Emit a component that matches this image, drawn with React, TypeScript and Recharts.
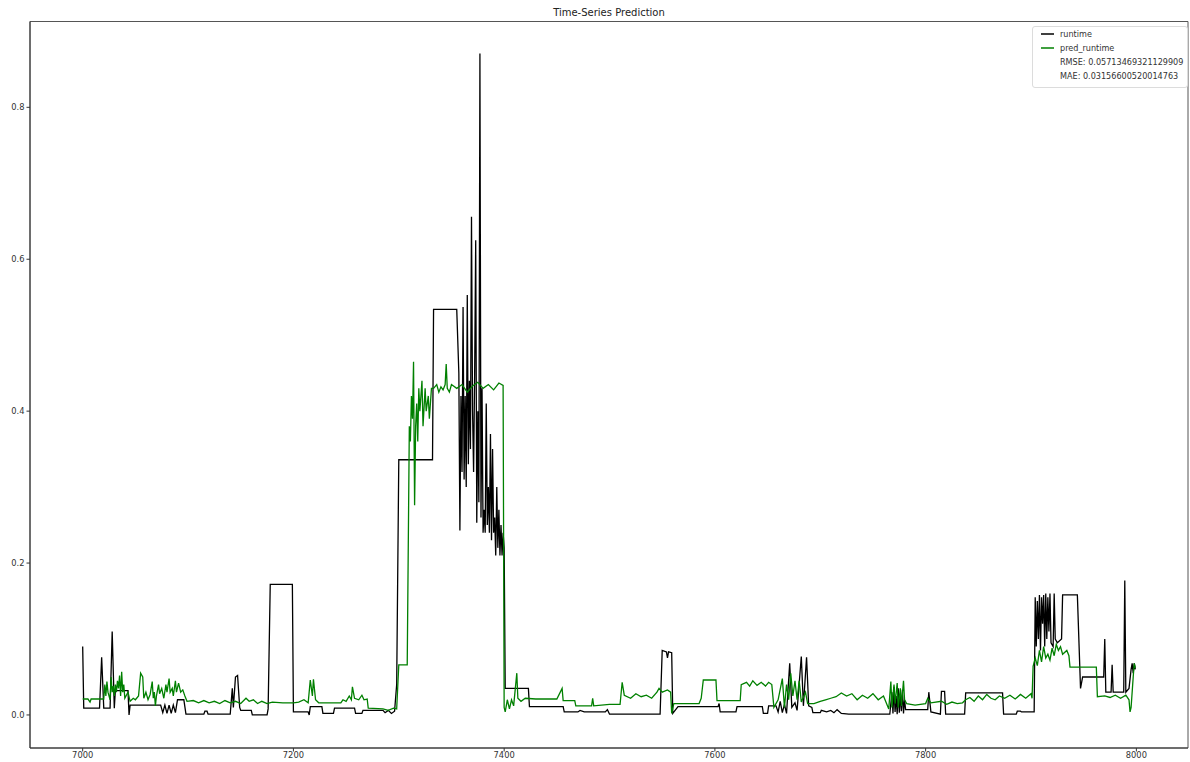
import React from "react";
import { LineChart, Line, XAxis, YAxis, ReferenceArea, Legend } from "recharts";

// runtime (actual) series: [index, value]
const runtimePairs: [number, number][] = [
  [7000, 0.09], [7001, 0.009], [7016, 0.009], [7018, 0.076], [7020, 0.009], [7026, 0.009], [7028, 0.11], [7030, 0.009],
  [7031, 0.032], [7043, 0.032], [7044, 0.0], [7045, 0.013], [7074, 0.013], [7076, 0.003], [7078, 0.013], [7080, 0.002],
  [7082, 0.013], [7084, 0.002], [7086, 0.013], [7088, 0.003], [7090, 0.02], [7096, 0.02], [7098, 0.001], [7115, 0.001],
  [7116, 0.005], [7118, 0.005], [7119, 0.001], [7140, 0.001], [7142, 0.035], [7143, 0.01], [7145, 0.05], [7147, 0.052],
  [7149, 0.01], [7150, 0.006], [7160, 0.006], [7161, 0.0], [7175, 0.0], [7176, 0.008], [7178, 0.172], [7199, 0.172],
  [7200, 0.004], [7214, 0.004], [7215, 0.0], [7216, 0.011], [7227, 0.011], [7228, 0.002], [7238, 0.002], [7239, 0.009],
  [7258, 0.009], [7259, 0.002], [7265, 0.002], [7266, 0.006], [7285, 0.006], [7287, 0.003], [7290, 0.006], [7293, 0.002],
  [7296, 0.005], [7298, 0.04], [7300, 0.336], [7332, 0.336], [7333, 0.534], [7355, 0.534], [7357, 0.45], [7358, 0.243],
  [7359, 0.42], [7360, 0.32], [7361, 0.537], [7362, 0.31], [7363, 0.42], [7364, 0.3], [7365, 0.553], [7366, 0.33],
  [7367, 0.44], [7368, 0.35], [7369, 0.656], [7370, 0.4], [7371, 0.32], [7372, 0.45], [7373, 0.625], [7374, 0.253],
  [7375, 0.4], [7376, 0.28], [7377, 0.871], [7378, 0.26], [7379, 0.43], [7380, 0.24], [7381, 0.27], [7382, 0.24],
  [7383, 0.41], [7384, 0.25], [7385, 0.3], [7386, 0.24], [7387, 0.37], [7388, 0.23], [7389, 0.35], [7390, 0.24],
  [7391, 0.26], [7392, 0.21], [7393, 0.3], [7394, 0.22], [7395, 0.27], [7396, 0.21], [7397, 0.25], [7398, 0.21],
  [7399, 0.24], [7400, 0.22], [7401, 0.035], [7423, 0.035], [7424, 0.011], [7456, 0.011], [7457, 0.004], [7470, 0.004],
  [7472, 0.006], [7476, 0.004], [7496, 0.004], [7498, 0.007], [7500, 0.001], [7548, 0.001], [7550, 0.085], [7554, 0.083],
  [7555, 0.075], [7556, 0.083], [7559, 0.082], [7560, 0.002], [7565, 0.011], [7603, 0.011], [7604, 0.015], [7605, 0.004],
  [7620, 0.004], [7621, 0.011], [7645, 0.011], [7646, 0.002], [7650, 0.002], [7651, 0.012], [7658, 0.012], [7660, 0.004],
  [7662, 0.018], [7664, 0.003], [7666, 0.014], [7668, 0.002], [7671, 0.068], [7673, 0.01], [7676, 0.016], [7678, 0.006],
  [7682, 0.077], [7684, 0.012], [7687, 0.076], [7689, 0.012], [7692, 0.01], [7693, 0.003], [7700, 0.003], [7701, 0.006],
  [7706, 0.004], [7710, 0.006], [7713, 0.003], [7716, 0.007], [7720, 0.002], [7727, 0.001], [7766, 0.001], [7768, 0.03],
  [7769, 0.002], [7770, 0.037], [7771, 0.004], [7772, 0.025], [7773, 0.001], [7774, 0.035], [7775, 0.003], [7776, 0.028],
  [7777, 0.005], [7778, 0.033], [7779, 0.002], [7780, 0.02], [7781, 0.007], [7802, 0.007], [7803, 0.03], [7805, 0.004],
  [7814, 0.001], [7815, 0.031], [7818, 0.031], [7819, 0.001], [7837, 0.001], [7838, 0.029], [7873, 0.029], [7874, 0.001],
  [7886, 0.001], [7887, 0.005], [7890, 0.005], [7891, 0.004], [7903, 0.004], [7904, 0.155], [7905, 0.09], [7906, 0.15],
  [7907, 0.1], [7908, 0.158], [7909, 0.085], [7910, 0.155], [7911, 0.12], [7912, 0.158], [7913, 0.09], [7914, 0.16],
  [7915, 0.1], [7916, 0.155], [7917, 0.11], [7918, 0.16], [7919, 0.095], [7921, 0.09], [7922, 0.16], [7923, 0.1],
  [7925, 0.095], [7929, 0.1], [7930, 0.158], [7944, 0.158], [7947, 0.035], [7949, 0.05], [7969, 0.05], [7970, 0.1],
  [7971, 0.03], [7976, 0.03], [7977, 0.066], [7978, 0.03], [7988, 0.03], [7989, 0.177], [7990, 0.03], [7993, 0.035],
  [7995, 0.06], [7996, 0.068], [7997, 0.055], [7998, 0.068], [7999, 0.06],
];

// pred_runtime (predicted) series: [index, value]
const predPairs: [number, number][] = [
  [7000, 0.021], [7005, 0.021], [7007, 0.017], [7008, 0.021], [7020, 0.021], [7021, 0.04], [7022, 0.025], [7023, 0.044],
  [7024, 0.03], [7026, 0.02], [7027, 0.05], [7028, 0.03], [7029, 0.038], [7030, 0.025], [7031, 0.04], [7032, 0.03],
  [7033, 0.045], [7034, 0.035], [7035, 0.052], [7036, 0.025], [7037, 0.057], [7038, 0.03], [7039, 0.04], [7040, 0.022],
  [7043, 0.03], [7045, 0.018], [7048, 0.022], [7050, 0.02], [7053, 0.025], [7055, 0.055], [7057, 0.05], [7058, 0.022],
  [7060, 0.03], [7062, 0.02], [7064, 0.027], [7066, 0.044], [7067, 0.022], [7068, 0.03], [7069, 0.012], [7070, 0.025],
  [7072, 0.04], [7073, 0.028], [7075, 0.035], [7077, 0.022], [7079, 0.04], [7080, 0.03], [7082, 0.048], [7083, 0.03],
  [7085, 0.035], [7086, 0.025], [7088, 0.045], [7089, 0.03], [7091, 0.042], [7093, 0.03], [7095, 0.033], [7097, 0.025],
  [7099, 0.018], [7105, 0.019], [7110, 0.016], [7115, 0.019], [7120, 0.016], [7125, 0.018], [7130, 0.015], [7135, 0.019],
  [7140, 0.016], [7145, 0.018], [7150, 0.015], [7155, 0.022], [7158, 0.018], [7162, 0.02], [7166, 0.015], [7170, 0.018],
  [7175, 0.015], [7180, 0.017], [7190, 0.016], [7200, 0.016], [7205, 0.017], [7210, 0.02], [7214, 0.016], [7216, 0.046],
  [7218, 0.025], [7219, 0.047], [7221, 0.02], [7224, 0.016], [7240, 0.016], [7245, 0.016], [7247, 0.02], [7250, 0.018],
  [7253, 0.025], [7255, 0.02], [7256, 0.037], [7258, 0.022], [7262, 0.02], [7265, 0.026], [7267, 0.02], [7270, 0.021],
  [7271, 0.009], [7285, 0.008], [7290, 0.006], [7295, 0.009], [7298, 0.008], [7300, 0.066], [7308, 0.066], [7310, 0.38],
  [7311, 0.36], [7312, 0.42], [7313, 0.39], [7314, 0.465], [7315, 0.276], [7316, 0.38], [7317, 0.41], [7318, 0.36],
  [7319, 0.43], [7320, 0.4], [7322, 0.44], [7323, 0.38], [7325, 0.43], [7326, 0.4], [7328, 0.42], [7329, 0.39],
  [7331, 0.43], [7333, 0.43], [7336, 0.435], [7338, 0.425], [7340, 0.432], [7342, 0.428], [7344, 0.435], [7345, 0.462],
  [7346, 0.43], [7348, 0.425], [7350, 0.435], [7355, 0.43], [7360, 0.435], [7365, 0.425], [7370, 0.433], [7375, 0.438],
  [7380, 0.43], [7385, 0.435], [7390, 0.428], [7395, 0.437], [7399, 0.434], [7400, 0.01], [7401, 0.004], [7403, 0.02],
  [7405, 0.008], [7407, 0.02], [7409, 0.012], [7412, 0.055], [7413, 0.022], [7416, 0.018], [7420, 0.022], [7430, 0.021],
  [7440, 0.021], [7450, 0.021], [7455, 0.035], [7456, 0.019], [7467, 0.019], [7468, 0.012], [7483, 0.012], [7484, 0.022],
  [7485, 0.012], [7500, 0.014], [7510, 0.014], [7512, 0.043], [7514, 0.026], [7520, 0.022], [7525, 0.028], [7530, 0.024],
  [7535, 0.026], [7540, 0.022], [7545, 0.03], [7547, 0.035], [7550, 0.03], [7555, 0.033], [7558, 0.03], [7559, 0.002],
  [7561, 0.015], [7585, 0.015], [7587, 0.022], [7589, 0.046], [7601, 0.046], [7602, 0.019], [7624, 0.019], [7625, 0.04],
  [7630, 0.043], [7633, 0.038], [7636, 0.045], [7640, 0.039], [7644, 0.043], [7648, 0.038], [7651, 0.043], [7654, 0.04],
  [7656, 0.01], [7660, 0.02], [7664, 0.048], [7666, 0.01], [7668, 0.04], [7670, 0.02], [7672, 0.055], [7674, 0.025],
  [7676, 0.045], [7678, 0.02], [7680, 0.045], [7682, 0.017], [7686, 0.03], [7688, 0.015], [7694, 0.015], [7700, 0.018],
  [7705, 0.02], [7710, 0.022], [7715, 0.024], [7720, 0.029], [7725, 0.025], [7730, 0.028], [7735, 0.02], [7740, 0.026],
  [7745, 0.022], [7750, 0.028], [7755, 0.02], [7760, 0.025], [7765, 0.008], [7767, 0.044], [7768, 0.01], [7770, 0.04],
  [7771, 0.015], [7773, 0.042], [7774, 0.01], [7776, 0.035], [7777, 0.012], [7779, 0.045], [7780, 0.02], [7782, 0.015],
  [7790, 0.013], [7800, 0.015], [7802, 0.022], [7805, 0.016], [7815, 0.018], [7820, 0.014], [7825, 0.017], [7830, 0.015],
  [7835, 0.016], [7838, 0.02], [7842, 0.023], [7846, 0.018], [7850, 0.025], [7854, 0.02], [7858, 0.027], [7862, 0.022],
  [7866, 0.02], [7870, 0.025], [7875, 0.022], [7880, 0.026], [7885, 0.021], [7890, 0.027], [7895, 0.022], [7900, 0.028],
  [7901, 0.022], [7902, 0.064], [7904, 0.075], [7906, 0.065], [7908, 0.085], [7910, 0.07], [7912, 0.09], [7914, 0.075],
  [7916, 0.08], [7918, 0.072], [7920, 0.088], [7922, 0.078], [7924, 0.093], [7926, 0.085], [7928, 0.09], [7930, 0.08],
  [7934, 0.085], [7936, 0.078], [7937, 0.063], [7962, 0.063], [7963, 0.024], [7970, 0.025], [7975, 0.023], [7980, 0.026],
  [7985, 0.022], [7990, 0.026], [7993, 0.02], [7994, 0.004], [7995, 0.01], [7997, 0.05], [7998, 0.068], [7999, 0.062],
];

const xTicks = [7000, 7200, 7400, 7600, 7800, 8000];
const yTicks = [0.0, 0.2, 0.4, 0.6, 0.8];
const xDomain: [number, number] = [6950, 8049];
const yDomain: [number, number] = [-0.0435, 0.913];

const titleText = "Time-Series Prediction";
const legendSeries = [
  { name: "runtime", color: "#000000" },
  { name: "pred_runtime", color: "#008000" },
];
const legendNotes = ["RMSE: 0.05713469321129909", "MAE: 0.03156600520014763"];

const runtimeData = runtimePairs.map(([x, y]) => ({ x, y }));
const predData = predPairs.map(([x, y]) => ({ x, y }));

const FONT = "'DejaVu Sans', sans-serif";

const LegendBox = () => (
  <div
    style={{
      border: "1px solid #dcdcdc",
      borderRadius: 3,
      background: "rgba(255,255,255,0.8)",
      padding: "0px 2px 4px 8px",
      fontFamily: FONT,
      fontSize: 8.1,
      color: "#333",
      lineHeight: "14px",
      boxSizing: "border-box",
      width: 156,
    }}
  >
    {legendSeries.map((s) => (
      <div key={s.name} style={{ display: "flex", alignItems: "center", whiteSpace: "nowrap" }}>
        <svg width={13} height={6} style={{ marginRight: 6 }}>
          <line x1={0} y1={3} x2={13} y2={3} stroke={s.color} strokeWidth={1.5} />
        </svg>
        <span>{s.name}</span>
      </div>
    ))}
    {legendNotes.map((t) => (
      <div key={t} style={{ paddingLeft: 19, whiteSpace: "nowrap" }}>
        {t}
      </div>
    ))}
  </div>
);

export default function App() {
  return (
    <div style={{ position: "absolute", left: 0, top: 0, width: 1190, height: 762, background: "#fff" }}>
      <div
        style={{
          position: "absolute",
          left: 30,
          width: 1158,
          top: 7,
          textAlign: "center",
          fontFamily: FONT,
          fontSize: 10,
          color: "#222",
        }}
      >
        {titleText}
      </div>
      <LineChart width={1190} height={762} margin={{ top: 21.5, right: 2, bottom: 0, left: 0 }}>
        <XAxis
          dataKey="x"
          type="number"
          domain={xDomain}
          ticks={xTicks}
          allowDataOverflow
          height={14}
          tickSize={3.5}
          tickMargin={1}
          axisLine={{ stroke: "#333" }}
          tickLine={{ stroke: "#333" }}
          tick={{ fontFamily: FONT, fontSize: 8.3, fill: "#333" }}
        />
        <YAxis
          type="number"
          domain={yDomain}
          ticks={yTicks}
          allowDataOverflow
          width={30}
          tickSize={3.5}
          tickMargin={2}
          axisLine={{ stroke: "#333" }}
          tickLine={{ stroke: "#333" }}
          tickFormatter={(v: number) => v.toFixed(1)}
          tick={{ fontFamily: FONT, fontSize: 8.3, fill: "#333" }}
        />
        <ReferenceArea
          x1={xDomain[0]}
          x2={xDomain[1]}
          y1={yDomain[0]}
          y2={yDomain[1]}
          fill="none"
          stroke="#555"
          strokeWidth={1}
          ifOverflow="visible"
        />
        <Line
          data={runtimeData}
          dataKey="y"
          name="runtime"
          stroke="#000000"
          strokeWidth={1.3}
          dot={false}
          isAnimationActive={false}
        />
        <Line
          data={predData}
          dataKey="y"
          name="pred_runtime"
          stroke="#008000"
          strokeWidth={1.3}
          dot={false}
          isAnimationActive={false}
        />
        <Legend
          layout="horizontal"
          verticalAlign="middle"
          align="center"
          content={() => <LegendBox />}
          wrapperStyle={{ position: "absolute", left: 1032, top: 26, width: 156, height: "auto" }}
        />
      </LineChart>
    </div>
  );
}
